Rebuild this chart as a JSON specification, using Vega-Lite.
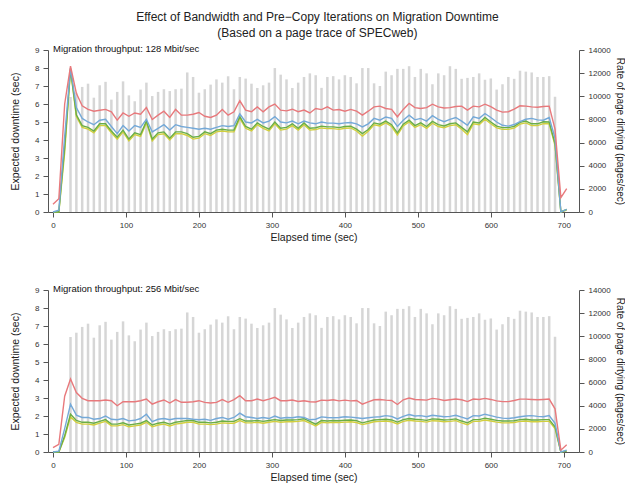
{
  "$schema": "https://vega.github.io/schema/vega-lite/v6.json",
  "padding": {"left": 10, "top": 11, "right": 0, "bottom": 0},
  "background": "white",
  "title": {
    "text": ["Effect of Bandwidth and Pre\u2212Copy Iterations on Migration Downtime", "(Based on a page trace of SPECweb)"],
    "anchor": "middle",
    "font": "Liberation Sans",
    "fontSize": 12,
    "fontWeight": "normal",
    "color": "#222222",
    "lineHeight": 16,
    "offset": 4
  },
  "datasets": {
    "bars": [
      {"t":24,"rate":9940},{"t":32,"rate":10310},{"t":40,"rate":10810},{"t":48,"rate":11090},{"t":56,"rate":9880},{"t":64,"rate":10950},{"t":72,"rate":11250},{"t":80,"rate":9710},{"t":88,"rate":10380},{"t":96,"rate":11290},
      {"t":104,"rate":10080},{"t":112,"rate":9570},{"t":120,"rate":10580},{"t":128,"rate":11180},{"t":136,"rate":10020},{"t":144,"rate":10380},{"t":152,"rate":10610},{"t":160,"rate":10450},{"t":168,"rate":10610},{"t":176,"rate":10660},
      {"t":184,"rate":12060},{"t":192,"rate":11670},{"t":200,"rate":10310},{"t":208,"rate":10610},{"t":216,"rate":11010},{"t":224,"rate":11460},{"t":232,"rate":11180},{"t":240,"rate":11730},{"t":248,"rate":10610},{"t":256,"rate":11670},
      {"t":264,"rate":11530},{"t":272,"rate":11090},{"t":280,"rate":10720},{"t":288,"rate":10950},{"t":296,"rate":11180},{"t":304,"rate":12440},{"t":312,"rate":11870},{"t":320,"rate":11460},{"t":328,"rate":10720},{"t":336,"rate":11180},
      {"t":344,"rate":11670},{"t":352,"rate":11980},{"t":360,"rate":11820},{"t":368,"rate":10730},{"t":376,"rate":11670},{"t":384,"rate":11740},{"t":392,"rate":11460},{"t":400,"rate":11820},{"t":408,"rate":11670},{"t":416,"rate":11120},
      {"t":424,"rate":12440},{"t":432,"rate":12440},{"t":440,"rate":11120},{"t":448,"rate":10890},{"t":456,"rate":12130},{"t":464,"rate":11820},{"t":472,"rate":12370},{"t":480,"rate":12370},{"t":488,"rate":12600},{"t":496,"rate":11670},
      {"t":504,"rate":12370},{"t":512,"rate":11980},{"t":520,"rate":11040},{"t":528,"rate":11980},{"t":536,"rate":11820},{"t":544,"rate":12600},{"t":552,"rate":12370},{"t":560,"rate":11510},{"t":568,"rate":11590},{"t":576,"rate":11670},
      {"t":584,"rate":11980},{"t":592,"rate":11430},{"t":600,"rate":11540},{"t":608,"rate":10580},{"t":616,"rate":11040},{"t":624,"rate":11670},{"t":632,"rate":11510},{"t":640,"rate":12210},{"t":648,"rate":12130},{"t":656,"rate":12060},
      {"t":664,"rate":11670},{"t":672,"rate":11670},{"t":680,"rate":11740},{"t":688,"rate":9960}
    ],
    "lines": [
      {"p":128,"t":0,"it1":0.43,"it2":0,"it3":0,"it4":0},
      {"p":128,"t":8,"it1":0.74,"it2":0.1,"it3":0,"it4":0},
      {"p":128,"t":16,"it1":6.0,"it2":4.2,"it3":3.6,"it4":3.3},
      {"p":128,"t":24,"it1":8.1,"it2":8.0,"it3":7.95,"it4":7.9},
      {"p":128,"t":32,"it1":6.6,"it2":5.8,"it3":5.4,"it4":5.3},
      {"p":128,"t":40,"it1":5.9,"it2":5.2,"it3":4.8,"it4":4.7},
      {"p":128,"t":48,"it1":5.7,"it2":5.0,"it3":4.7,"it4":4.6},
      {"p":128,"t":56,"it1":5.6,"it2":4.85,"it3":4.5,"it4":4.4},
      {"p":128,"t":64,"it1":5.65,"it2":5.1,"it3":4.9,"it4":4.8},
      {"p":128,"t":72,"it1":5.7,"it2":5.15,"it3":4.9,"it4":4.8},
      {"p":128,"t":80,"it1":5.57,"it2":4.75,"it3":4.5,"it4":4.4},
      {"p":128,"t":88,"it1":5.1,"it2":4.35,"it3":4.15,"it4":4.05},
      {"p":128,"t":96,"it1":5.5,"it2":4.8,"it3":4.55,"it4":4.45},
      {"p":128,"t":104,"it1":5.32,"it2":4.5,"it3":4.05,"it4":3.95},
      {"p":128,"t":112,"it1":5.5,"it2":4.8,"it3":4.4,"it4":4.3},
      {"p":128,"t":120,"it1":5.43,"it2":4.7,"it3":4.3,"it4":4.2},
      {"p":128,"t":128,"it1":5.8,"it2":5.15,"it3":5.05,"it4":4.95},
      {"p":128,"t":136,"it1":5.14,"it2":4.45,"it3":4.05,"it4":3.95},
      {"p":128,"t":144,"it1":5.38,"it2":4.65,"it3":4.4,"it4":4.3},
      {"p":128,"t":152,"it1":5.6,"it2":4.85,"it3":4.45,"it4":4.35},
      {"p":128,"t":160,"it1":5.25,"it2":4.55,"it3":4.1,"it4":4.0},
      {"p":128,"t":168,"it1":5.7,"it2":4.85,"it3":4.45,"it4":4.35},
      {"p":128,"t":176,"it1":5.38,"it2":4.75,"it3":4.45,"it4":4.35},
      {"p":128,"t":184,"it1":5.38,"it2":4.7,"it3":4.35,"it4":4.25},
      {"p":128,"t":192,"it1":5.43,"it2":4.65,"it3":4.15,"it4":4.05},
      {"p":128,"t":200,"it1":5.53,"it2":4.6,"it3":4.2,"it4":4.1},
      {"p":128,"t":208,"it1":5.32,"it2":4.65,"it3":4.45,"it4":4.35},
      {"p":128,"t":216,"it1":5.25,"it2":4.6,"it3":4.35,"it4":4.25},
      {"p":128,"t":224,"it1":5.38,"it2":4.7,"it3":4.55,"it4":4.45},
      {"p":128,"t":232,"it1":5.7,"it2":4.8,"it3":4.6,"it4":4.5},
      {"p":128,"t":240,"it1":5.38,"it2":4.75,"it3":4.55,"it4":4.45},
      {"p":128,"t":248,"it1":5.57,"it2":4.8,"it3":4.55,"it4":4.45},
      {"p":128,"t":256,"it1":6.18,"it2":5.45,"it3":5.3,"it4":5.2},
      {"p":128,"t":264,"it1":5.66,"it2":5.0,"it3":4.75,"it4":4.65},
      {"p":128,"t":272,"it1":5.57,"it2":4.95,"it3":4.6,"it4":4.5},
      {"p":128,"t":280,"it1":5.84,"it2":5.15,"it3":4.95,"it4":4.85},
      {"p":128,"t":288,"it1":5.57,"it2":4.95,"it3":4.75,"it4":4.65},
      {"p":128,"t":296,"it1":5.84,"it2":5.05,"it3":4.6,"it4":4.5},
      {"p":128,"t":304,"it1":6.0,"it2":5.3,"it3":5.0,"it4":4.9},
      {"p":128,"t":312,"it1":5.66,"it2":5.0,"it3":4.65,"it4":4.55},
      {"p":128,"t":320,"it1":5.62,"it2":4.95,"it3":4.7,"it4":4.6},
      {"p":128,"t":328,"it1":5.71,"it2":5.05,"it3":4.9,"it4":4.8},
      {"p":128,"t":336,"it1":5.57,"it2":4.9,"it3":4.65,"it4":4.55},
      {"p":128,"t":344,"it1":5.66,"it2":5.05,"it3":4.95,"it4":4.85},
      {"p":128,"t":352,"it1":5.5,"it2":4.95,"it3":4.65,"it4":4.55},
      {"p":128,"t":360,"it1":5.75,"it2":4.9,"it3":4.68,"it4":4.58},
      {"p":128,"t":368,"it1":5.69,"it2":5.0,"it3":4.77,"it4":4.67},
      {"p":128,"t":376,"it1":5.84,"it2":4.94,"it3":4.73,"it4":4.63},
      {"p":128,"t":384,"it1":5.66,"it2":4.94,"it3":4.73,"it4":4.63},
      {"p":128,"t":392,"it1":5.69,"it2":4.9,"it3":4.69,"it4":4.59},
      {"p":128,"t":400,"it1":5.6,"it2":4.95,"it3":4.75,"it4":4.65},
      {"p":128,"t":408,"it1":5.7,"it2":4.97,"it3":4.77,"it4":4.67},
      {"p":128,"t":416,"it1":5.6,"it2":4.9,"it3":4.6,"it4":4.5},
      {"p":128,"t":424,"it1":5.38,"it2":4.73,"it3":4.36,"it4":4.22},
      {"p":128,"t":432,"it1":5.6,"it2":4.9,"it3":4.58,"it4":4.48},
      {"p":128,"t":440,"it1":5.84,"it2":5.2,"it3":4.95,"it4":4.85},
      {"p":128,"t":448,"it1":5.88,"it2":5.1,"it3":4.88,"it4":4.78},
      {"p":128,"t":456,"it1":5.75,"it2":5.28,"it3":5.05,"it4":4.95},
      {"p":128,"t":464,"it1":5.7,"it2":5.2,"it3":4.85,"it4":4.75},
      {"p":128,"t":472,"it1":5.29,"it2":4.75,"it3":4.4,"it4":4.28},
      {"p":128,"t":480,"it1":5.7,"it2":5.1,"it3":4.88,"it4":4.78},
      {"p":128,"t":488,"it1":6.03,"it2":5.38,"it3":5.1,"it4":5.0},
      {"p":128,"t":496,"it1":5.8,"it2":5.12,"it3":4.8,"it4":4.7},
      {"p":128,"t":504,"it1":5.75,"it2":5.2,"it3":4.95,"it4":4.85},
      {"p":128,"t":512,"it1":5.8,"it2":5.05,"it3":4.75,"it4":4.65},
      {"p":128,"t":520,"it1":5.99,"it2":5.35,"it3":5.03,"it4":4.93},
      {"p":128,"t":528,"it1":5.84,"it2":5.15,"it3":4.85,"it4":4.75},
      {"p":128,"t":536,"it1":5.78,"it2":5.02,"it3":4.78,"it4":4.68},
      {"p":128,"t":544,"it1":5.8,"it2":5.15,"it3":4.9,"it4":4.8},
      {"p":128,"t":552,"it1":5.86,"it2":5.25,"it3":4.95,"it4":4.85},
      {"p":128,"t":560,"it1":5.88,"it2":5.05,"it3":4.7,"it4":4.6},
      {"p":128,"t":568,"it1":5.66,"it2":4.82,"it3":4.45,"it4":4.3},
      {"p":128,"t":576,"it1":5.88,"it2":5.29,"it3":5.0,"it4":4.9},
      {"p":128,"t":584,"it1":5.84,"it2":5.2,"it3":4.95,"it4":4.85},
      {"p":128,"t":592,"it1":5.99,"it2":5.47,"it3":5.25,"it4":5.15},
      {"p":128,"t":600,"it1":5.85,"it2":5.25,"it3":5.0,"it4":4.9},
      {"p":128,"t":608,"it1":5.66,"it2":5.0,"it3":4.77,"it4":4.67},
      {"p":128,"t":616,"it1":5.55,"it2":4.82,"it3":4.69,"it4":4.59},
      {"p":128,"t":624,"it1":5.57,"it2":4.77,"it3":4.69,"it4":4.59},
      {"p":128,"t":632,"it1":5.72,"it2":4.86,"it3":4.76,"it4":4.66},
      {"p":128,"t":640,"it1":5.9,"it2":5.02,"it3":4.98,"it4":4.88},
      {"p":128,"t":648,"it1":5.88,"it2":5.15,"it3":5.05,"it4":4.95},
      {"p":128,"t":656,"it1":5.84,"it2":5.2,"it3":4.9,"it4":4.8},
      {"p":128,"t":664,"it1":5.82,"it2":5.12,"it3":4.9,"it4":4.8},
      {"p":128,"t":672,"it1":5.86,"it2":5.1,"it3":5.01,"it4":4.91},
      {"p":128,"t":680,"it1":5.88,"it2":5.25,"it3":5.0,"it4":4.9},
      {"p":128,"t":688,"it1":4.6,"it2":4.1,"it3":3.8,"it4":3.7},
      {"p":128,"t":696,"it1":0.8,"it2":0,"it3":0,"it4":0},
      {"p":128,"t":704,"it1":1.3,"it2":0.15,"it3":0.15,"it4":0.1},
      {"p":256,"t":0,"it1":0.24,"it2":0,"it3":0,"it4":0},
      {"p":256,"t":8,"it1":0.43,"it2":0.05,"it3":0,"it4":0},
      {"p":256,"t":16,"it1":3.1,"it2":1.3,"it3":0.9,"it4":0.8},
      {"p":256,"t":24,"it1":4.06,"it2":2.66,"it3":2.1,"it4":1.95},
      {"p":256,"t":32,"it1":3.3,"it2":2.05,"it3":1.75,"it4":1.65},
      {"p":256,"t":40,"it1":2.98,"it2":1.92,"it3":1.65,"it4":1.55},
      {"p":256,"t":48,"it1":2.85,"it2":1.92,"it3":1.65,"it4":1.55},
      {"p":256,"t":56,"it1":2.85,"it2":1.82,"it3":1.6,"it4":1.5},
      {"p":256,"t":64,"it1":2.85,"it2":1.86,"it3":1.7,"it4":1.6},
      {"p":256,"t":72,"it1":2.89,"it2":2.0,"it3":1.8,"it4":1.7},
      {"p":256,"t":80,"it1":2.85,"it2":1.82,"it3":1.55,"it4":1.45},
      {"p":256,"t":88,"it1":2.57,"it2":1.79,"it3":1.55,"it4":1.45},
      {"p":256,"t":96,"it1":2.79,"it2":1.86,"it3":1.62,"it4":1.52},
      {"p":256,"t":104,"it1":2.79,"it2":1.73,"it3":1.5,"it4":1.4},
      {"p":256,"t":112,"it1":2.79,"it2":1.76,"it3":1.55,"it4":1.45},
      {"p":256,"t":120,"it1":2.85,"it2":1.86,"it3":1.6,"it4":1.5},
      {"p":256,"t":128,"it1":2.94,"it2":2.1,"it3":1.75,"it4":1.65},
      {"p":256,"t":136,"it1":2.66,"it2":1.68,"it3":1.5,"it4":1.4},
      {"p":256,"t":144,"it1":2.79,"it2":1.82,"it3":1.6,"it4":1.5},
      {"p":256,"t":152,"it1":2.89,"it2":1.86,"it3":1.65,"it4":1.55},
      {"p":256,"t":160,"it1":2.72,"it2":1.79,"it3":1.55,"it4":1.45},
      {"p":256,"t":168,"it1":2.91,"it2":1.86,"it3":1.65,"it4":1.55},
      {"p":256,"t":176,"it1":2.76,"it2":1.86,"it3":1.7,"it4":1.6},
      {"p":256,"t":184,"it1":2.76,"it2":1.86,"it3":1.75,"it4":1.65},
      {"p":256,"t":192,"it1":2.79,"it2":1.82,"it3":1.75,"it4":1.65},
      {"p":256,"t":200,"it1":2.85,"it2":1.79,"it3":1.65,"it4":1.55},
      {"p":256,"t":208,"it1":2.76,"it2":1.82,"it3":1.65,"it4":1.55},
      {"p":256,"t":216,"it1":2.72,"it2":1.76,"it3":1.62,"it4":1.52},
      {"p":256,"t":224,"it1":2.76,"it2":1.86,"it3":1.65,"it4":1.55},
      {"p":256,"t":232,"it1":2.91,"it2":1.92,"it3":1.72,"it4":1.62},
      {"p":256,"t":240,"it1":2.76,"it2":1.82,"it3":1.7,"it4":1.6},
      {"p":256,"t":248,"it1":2.91,"it2":1.92,"it3":1.7,"it4":1.6},
      {"p":256,"t":256,"it1":3.13,"it2":2.16,"it3":1.85,"it4":1.75},
      {"p":256,"t":264,"it1":2.85,"it2":1.96,"it3":1.72,"it4":1.62},
      {"p":256,"t":272,"it1":2.85,"it2":1.92,"it3":1.72,"it4":1.62},
      {"p":256,"t":280,"it1":2.94,"it2":1.86,"it3":1.75,"it4":1.65},
      {"p":256,"t":288,"it1":2.85,"it2":1.92,"it3":1.7,"it4":1.6},
      {"p":256,"t":296,"it1":2.94,"it2":1.86,"it3":1.75,"it4":1.65},
      {"p":256,"t":304,"it1":3.04,"it2":2.0,"it3":1.8,"it4":1.7},
      {"p":256,"t":312,"it1":2.85,"it2":1.88,"it3":1.75,"it4":1.65},
      {"p":256,"t":320,"it1":2.85,"it2":1.92,"it3":1.78,"it4":1.68},
      {"p":256,"t":328,"it1":2.89,"it2":1.9,"it3":1.78,"it4":1.68},
      {"p":256,"t":336,"it1":2.81,"it2":1.96,"it3":1.8,"it4":1.7},
      {"p":256,"t":344,"it1":2.85,"it2":1.92,"it3":1.85,"it4":1.75},
      {"p":256,"t":352,"it1":2.79,"it2":1.79,"it3":1.7,"it4":1.6},
      {"p":256,"t":360,"it1":2.78,"it2":1.82,"it3":1.55,"it4":1.45},
      {"p":256,"t":368,"it1":2.88,"it2":1.95,"it3":1.75,"it4":1.65},
      {"p":256,"t":376,"it1":2.86,"it2":1.92,"it3":1.72,"it4":1.62},
      {"p":256,"t":384,"it1":2.9,"it2":1.9,"it3":1.75,"it4":1.65},
      {"p":256,"t":392,"it1":2.84,"it2":1.92,"it3":1.74,"it4":1.64},
      {"p":256,"t":400,"it1":2.88,"it2":1.96,"it3":1.76,"it4":1.66},
      {"p":256,"t":408,"it1":2.84,"it2":1.94,"it3":1.78,"it4":1.68},
      {"p":256,"t":416,"it1":2.86,"it2":1.9,"it3":1.74,"it4":1.64},
      {"p":256,"t":424,"it1":2.66,"it2":1.86,"it3":1.62,"it4":1.52},
      {"p":256,"t":432,"it1":2.78,"it2":1.9,"it3":1.7,"it4":1.6},
      {"p":256,"t":440,"it1":2.9,"it2":1.94,"it3":1.78,"it4":1.68},
      {"p":256,"t":448,"it1":2.92,"it2":1.96,"it3":1.8,"it4":1.7},
      {"p":256,"t":456,"it1":2.88,"it2":2.02,"it3":1.82,"it4":1.72},
      {"p":256,"t":464,"it1":2.86,"it2":1.98,"it3":1.78,"it4":1.68},
      {"p":256,"t":472,"it1":2.64,"it2":1.84,"it3":1.66,"it4":1.56},
      {"p":256,"t":480,"it1":2.9,"it2":1.98,"it3":1.8,"it4":1.7},
      {"p":256,"t":488,"it1":3.0,"it2":2.08,"it3":1.86,"it4":1.76},
      {"p":256,"t":496,"it1":2.92,"it2":2.0,"it3":1.82,"it4":1.72},
      {"p":256,"t":504,"it1":2.9,"it2":2.02,"it3":1.8,"it4":1.7},
      {"p":256,"t":512,"it1":2.88,"it2":1.96,"it3":1.76,"it4":1.66},
      {"p":256,"t":520,"it1":2.98,"it2":2.04,"it3":1.84,"it4":1.74},
      {"p":256,"t":528,"it1":2.94,"it2":2.0,"it3":1.82,"it4":1.72},
      {"p":256,"t":536,"it1":2.86,"it2":1.96,"it3":1.78,"it4":1.68},
      {"p":256,"t":544,"it1":2.9,"it2":1.98,"it3":1.8,"it4":1.7},
      {"p":256,"t":552,"it1":2.94,"it2":2.04,"it3":1.84,"it4":1.74},
      {"p":256,"t":560,"it1":2.9,"it2":1.94,"it3":1.72,"it4":1.62},
      {"p":256,"t":568,"it1":2.8,"it2":1.84,"it3":1.62,"it4":1.52},
      {"p":256,"t":576,"it1":2.94,"it2":2.02,"it3":1.8,"it4":1.7},
      {"p":256,"t":584,"it1":2.92,"it2":2.0,"it3":1.8,"it4":1.7},
      {"p":256,"t":592,"it1":2.98,"it2":2.1,"it3":1.88,"it4":1.78},
      {"p":256,"t":600,"it1":2.92,"it2":2.02,"it3":1.82,"it4":1.72},
      {"p":256,"t":608,"it1":2.84,"it2":1.94,"it3":1.76,"it4":1.66},
      {"p":256,"t":616,"it1":2.8,"it2":1.88,"it3":1.72,"it4":1.62},
      {"p":256,"t":624,"it1":2.8,"it2":1.86,"it3":1.72,"it4":1.62},
      {"p":256,"t":632,"it1":2.86,"it2":1.9,"it3":1.74,"it4":1.64},
      {"p":256,"t":640,"it1":2.94,"it2":1.96,"it3":1.8,"it4":1.7},
      {"p":256,"t":648,"it1":2.94,"it2":2.0,"it3":1.82,"it4":1.72},
      {"p":256,"t":656,"it1":2.92,"it2":2.02,"it3":1.78,"it4":1.68},
      {"p":256,"t":664,"it1":2.9,"it2":1.98,"it3":1.78,"it4":1.68},
      {"p":256,"t":672,"it1":2.92,"it2":1.96,"it3":1.8,"it4":1.7},
      {"p":256,"t":680,"it1":2.94,"it2":2.02,"it3":1.8,"it4":1.7},
      {"p":256,"t":688,"it1":2.4,"it2":1.6,"it3":1.4,"it4":1.3},
      {"p":256,"t":696,"it1":0.1,"it2":0,"it3":0,"it4":0},
      {"p":256,"t":704,"it1":0.4,"it2":0.1,"it3":0.05,"it4":0.05}
    ],
    "labels": [
      {"p":128,"label":"Migration throughput: 128 Mbit/sec","t":0,"v":9},
      {"p":256,"label":"Migration throughput: 256 Mbit/sec","t":0,"v":9}
    ]
  },
  "spacing": 41,
  "vconcat": [
    {
      "width": 531,
      "height": 162,
      "layer": [
        {
          "data": {"name": "bars"},
          "mark": {"type": "bar", "size": 2.5, "color": "#d6d6d6"},
          "encoding": {
            "x": {"field": "t", "type": "quantitative", "scale": {"domain": [0, 714], "nice": false, "zero": false},
                  "axis": {"title": "Elapsed time (sec)", "values": [0,100,200,300,400,500,600,700]}},
            "y": {"field": "rate", "type": "quantitative", "scale": {"domain": [0, 14000], "nice": false},
                  "axis": {"orient": "right", "title": "Rate of page dirtying (pages/sec)", "values": [0,2000,4000,6000,8000,10000,12000,14000], "format": "d", "titlePadding": 4, "titleFontSize": 10}}
          }
        },
        {
          "layer": [
            {
              "data": {"name": "lines"},
              "transform": [
                {"filter": "datum.p == 128"},
                {"fold": ["it4", "it3", "it2", "it1"], "as": ["iterations", "downtime"]}
              ],
              "mark": {"type": "line", "strokeWidth": 1.4},
              "encoding": {
                "x": {"field": "t", "type": "quantitative"},
                "y": {"field": "downtime", "type": "quantitative", "scale": {"domain": [0, 9], "nice": false},
                      "axis": {"orient": "left", "title": "Expected downtime (sec)", "values": [0,1,2,3,4,5,6,7,8,9], "titlePadding": 14}},
                "color": {"field": "iterations", "type": "nominal",
                          "scale": {"domain": ["it1", "it2", "it3", "it4"], "range": ["#e8797c", "#74a9d8", "#6aae45", "#d2cf3e"]},
                          "legend": null}
              }
            },
            {
              "data": {"name": "labels"},
              "transform": [{"filter": "datum.p == 128"}],
              "mark": {"type": "text", "align": "left", "baseline": "middle", "dy": -1, "dx": 0, "font": "Liberation Sans", "fontSize": 9.5, "color": "#111111"},
              "encoding": {
                "x": {"field": "t", "type": "quantitative"},
                "y": {"field": "v", "type": "quantitative",
                      "axis": {"orient": "left", "title": "Expected downtime (sec)", "values": [0,1,2,3,4,5,6,7,8,9], "titlePadding": 14}},
                "text": {"field": "label"}
              }
            }
          ]
        }
      ],
      "resolve": {"scale": {"y": "independent"}}
    },
    {
      "width": 531,
      "height": 162,
      "layer": [
        {
          "data": {"name": "bars"},
          "mark": {"type": "bar", "size": 2.5, "color": "#d6d6d6"},
          "encoding": {
            "x": {"field": "t", "type": "quantitative", "scale": {"domain": [0, 714], "nice": false, "zero": false},
                  "axis": {"title": "Elapsed time (sec)", "values": [0,100,200,300,400,500,600,700]}},
            "y": {"field": "rate", "type": "quantitative", "scale": {"domain": [0, 14000], "nice": false},
                  "axis": {"orient": "right", "title": "Rate of page dirtying (pages/sec)", "values": [0,2000,4000,6000,8000,10000,12000,14000], "format": "d", "titlePadding": 4, "titleFontSize": 10}}
          }
        },
        {
          "layer": [
            {
              "data": {"name": "lines"},
              "transform": [
                {"filter": "datum.p == 256"},
                {"fold": ["it4", "it3", "it2", "it1"], "as": ["iterations", "downtime"]}
              ],
              "mark": {"type": "line", "strokeWidth": 1.4},
              "encoding": {
                "x": {"field": "t", "type": "quantitative"},
                "y": {"field": "downtime", "type": "quantitative", "scale": {"domain": [0, 9], "nice": false},
                      "axis": {"orient": "left", "title": "Expected downtime (sec)", "values": [0,1,2,3,4,5,6,7,8,9], "titlePadding": 14}},
                "color": {"field": "iterations", "type": "nominal",
                          "scale": {"domain": ["it1", "it2", "it3", "it4"], "range": ["#e8797c", "#74a9d8", "#6aae45", "#d2cf3e"]},
                          "legend": null}
              }
            },
            {
              "data": {"name": "labels"},
              "transform": [{"filter": "datum.p == 256"}],
              "mark": {"type": "text", "align": "left", "baseline": "middle", "dy": -1, "dx": 0, "font": "Liberation Sans", "fontSize": 9.5, "color": "#111111"},
              "encoding": {
                "x": {"field": "t", "type": "quantitative"},
                "y": {"field": "v", "type": "quantitative",
                      "axis": {"orient": "left", "title": "Expected downtime (sec)", "values": [0,1,2,3,4,5,6,7,8,9], "titlePadding": 14}},
                "text": {"field": "label"}
              }
            }
          ]
        }
      ],
      "resolve": {"scale": {"y": "independent"}}
    }
  ],
  "config": {
    "view": {"stroke": null},
    "font": "Liberation Sans",
    "axis": {
      "grid": false,
      "domainColor": "#555555",
      "tickColor": "#555555",
      "labelColor": "#333333",
      "titleColor": "#222222",
      "labelFont": "Liberation Sans",
      "titleFont": "Liberation Sans",
      "labelFontSize": 8,
      "titleFontSize": 10.5,
      "titleFontWeight": "normal",
      "tickSize": 5,
      "labelPadding": 4,
      "titlePadding": 3,
      "labelFlush": false,
      "labelOverlap": false
    }
  }
}
